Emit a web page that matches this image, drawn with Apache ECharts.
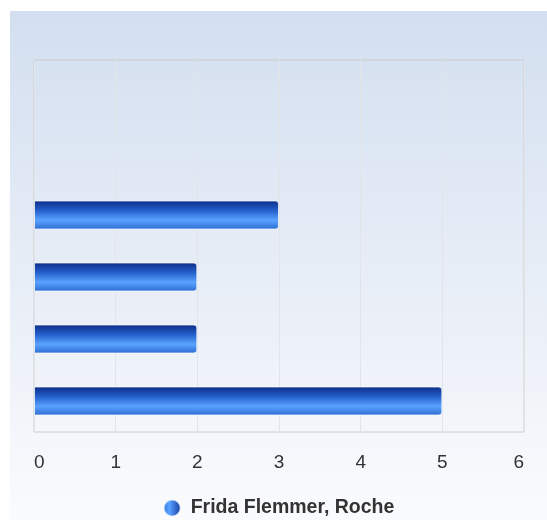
<!DOCTYPE html>
<html>
<head>
<meta charset="utf-8">
<script src="https://cdn.jsdelivr.net/npm/echarts@6/dist/echarts.min.js"></script>
<style>
  html, body { margin: 0; padding: 0; background: #ffffff; }
  #chart { position: absolute; left: 10px; top: 11px; width: 537px; height: 509px; }
</style>
</head>
<body>
<div id="chart"></div>
<script>
var categories = ['1', '2', '3', '4', '5', '6'];
var seriesName = 'Frida Flemmer, Roche';
var values = [5, 2, 2, 3, null, null];
var xTicks = [0, 1, 2, 3, 4, 5, 6];

var chart = echarts.init(document.getElementById('chart'), null, { renderer: 'canvas' });

var barGradient = new echarts.graphic.LinearGradient(0, 0, 0, 1, [
  { offset: 0, color: '#0b2b86' },
  { offset: 0.35, color: '#2460cc' },
  { offset: 0.68, color: '#5aa3ff' },
  { offset: 1, color: '#2c6bd2' }
]);
var legendGradient = new echarts.graphic.LinearGradient(0, 0, 1, 0, [
  { offset: 0, color: '#2f6fd8' },
  { offset: 0.35, color: '#5aa3ff' },
  { offset: 1, color: '#0d3499' }
]);

chart.setOption({
  backgroundColor: new echarts.graphic.LinearGradient(0, 0, 0, 1, [
    { offset: 0, color: '#d3dff0' },
    { offset: 1, color: '#fafbfd' }
  ]),
  animation: false,
  grid: { left: 24, right: 23, top: 49, bottom: 88, show: true, borderColor: '#cccccc', borderWidth: 1, backgroundColor: 'transparent' },
  legend: {
    top: 487,
    left: 'center',
    padding: 0,
    icon: 'circle',
    itemWidth: 17,
    itemHeight: 17,
    itemGap: 6,
    textStyle: { fontFamily: 'Liberation Sans, Arial, sans-serif', fontSize: 19.5, fontWeight: 'bold', color: '#333333', padding: [0, 0, 0, 5] },
    data: [{ name: seriesName, itemStyle: { color: legendGradient } }]
  },
  xAxis: {
    type: 'value',
    min: xTicks[0],
    max: xTicks[xTicks.length - 1],
    interval: 1,
    axisLine: { show: false },
    axisTick: { show: false },
    splitLine: { show: true, lineStyle: { color: '#e2e4e8', width: 1 } },
    axisLabel: {
      margin: 21,
      fontFamily: 'Liberation Sans, Arial, sans-serif',
      fontSize: 19,
      color: '#333333',
      alignMinLabel: 'left',
      alignMaxLabel: 'right'
    }
  },
  yAxis: {
    type: 'category',
    data: categories,
    axisLine: { show: false },
    axisTick: { show: false },
    axisLabel: { show: false },
    splitLine: { show: false }
  },
  series: [{
    name: seriesName,
    type: 'bar',
    data: values,
    barWidth: 29,
    itemStyle: {
      color: barGradient,
      borderColor: 'rgba(255,255,255,0.7)',
      borderWidth: 1,
      borderRadius: [0, 3, 3, 0]
    }
  }]
});
</script>
</body>
</html>
